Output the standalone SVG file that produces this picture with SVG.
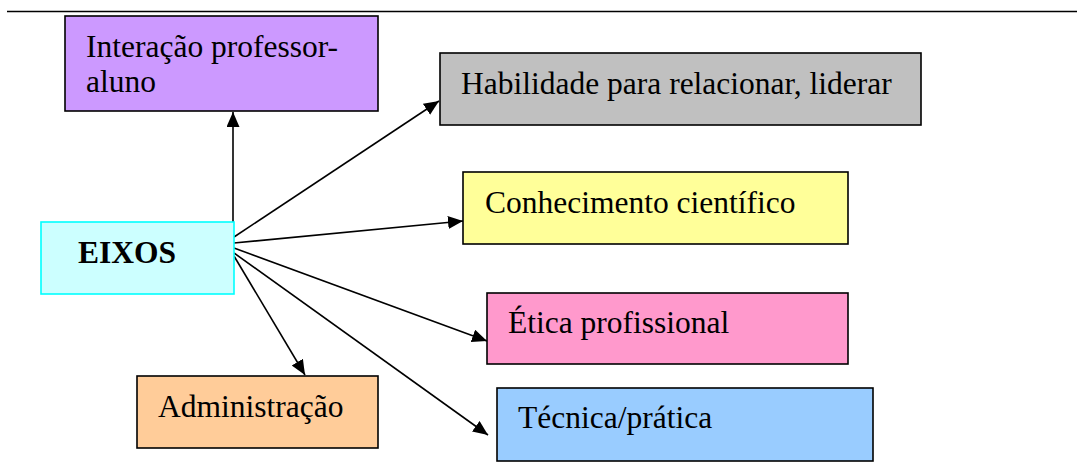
<svg xmlns="http://www.w3.org/2000/svg" width="1077" height="476" viewBox="0 0 1077 476">
<style>
.box{stroke:#000;stroke-width:1.6}
.t{font-family:"Liberation Serif","Times New Roman",serif;font-size:31.5px;fill:#000}
.c{stroke:#000;stroke-width:1.6;fill:none;marker-end:url(#ah)}
</style>
<defs>
<marker id="ah" markerUnits="userSpaceOnUse" markerWidth="16" markerHeight="14" refX="15" refY="6.5" orient="auto">
<path d="M0,0 L15,6.5 L0,13 z" fill="#000"/>
</marker>
</defs>
<rect width="1077" height="476" fill="#fff"/>
<line x1="7" y1="11.5" x2="1077" y2="11.5" stroke="#000" stroke-width="1.6"/>
<g id="connectors">
<line class="c" x1="233" y1="232" x2="233" y2="112"/>
<line class="c" x1="234" y1="237" x2="439" y2="101"/>
<line class="c" x1="234" y1="243" x2="463" y2="221"/>
<line class="c" x1="234" y1="248" x2="487" y2="341"/>
<line class="c" x1="234" y1="253" x2="488" y2="435"/>
<line class="c" x1="234" y1="256" x2="305" y2="375"/>
</g>
<g id="interacao">
<rect class="box" x="65" y="16" width="313" height="95" fill="#CC99FF"/>
<text class="t" x="86" y="57">Interação professor-</text>
<text class="t" x="86" y="92">aluno</text>
</g>
<g id="habilidade">
<rect class="box" x="440" y="53" width="481" height="72" fill="#C0C0C0"/>
<text class="t" x="461" y="94">Habilidade para relacionar, liderar</text>
</g>
<g id="conhecimento">
<rect class="box" x="463" y="172" width="385" height="72" fill="#FFFF99"/>
<text class="t" x="485" y="213">Conhecimento científico</text>
</g>
<g id="eixos">
<rect x="41" y="222" width="193" height="72" fill="#CCFFFF" stroke="#00FFFF" stroke-width="1.6"/>
<text class="t" x="78" y="263" font-weight="bold">EIXOS</text>
</g>
<g id="etica">
<rect class="box" x="487" y="293" width="361" height="71" fill="#FF99CC"/>
<text class="t" x="508" y="333">Ética profissional</text>
</g>
<g id="administracao">
<rect class="box" x="137" y="376" width="241" height="72" fill="#FFCC99"/>
<text class="t" x="158" y="417">Administração</text>
</g>
<g id="tecnica">
<rect class="box" x="497" y="388" width="376" height="73" fill="#99CCFF"/>
<text class="t" x="518" y="428">Técnica/prática</text>
</g>
</svg>
